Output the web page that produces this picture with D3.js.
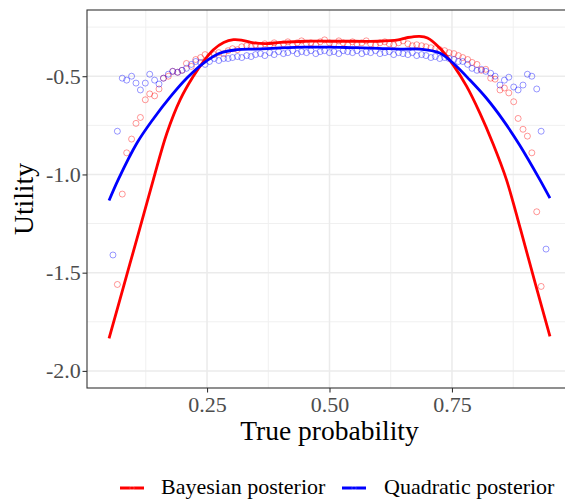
<!DOCTYPE html>
<html>
<head>
<meta charset="utf-8">
<script src="https://cdn.jsdelivr.net/npm/d3@7"></script>
<style>
  body { margin: 0; background: #fff; }
  svg { display: block; font-family: "Liberation Serif", "DejaVu Serif", serif; }
</style>
</head>
<body>
<svg id="chart"></svg>
<script>
const W = 565;
const H = 502;

// true probability grid shared by both point series
const probs = [
  0.058, 0.067, 0.077, 0.086, 0.096, 0.105, 0.114, 0.124, 0.133, 0.143,
  0.152, 0.161, 0.171, 0.180, 0.190, 0.199, 0.208, 0.218, 0.227, 0.237,
  0.246, 0.255, 0.265, 0.274, 0.284, 0.293, 0.302, 0.312, 0.321, 0.331,
  0.340, 0.349, 0.359, 0.368, 0.378, 0.387, 0.396, 0.406, 0.415, 0.425,
  0.434, 0.443, 0.453, 0.462, 0.472, 0.481, 0.490, 0.500, 0.509, 0.519,
  0.528, 0.537, 0.547, 0.556, 0.566, 0.575, 0.584, 0.594, 0.603, 0.613,
  0.622, 0.631, 0.641, 0.650, 0.660, 0.669, 0.678, 0.688, 0.697, 0.707,
  0.716, 0.725, 0.735, 0.744, 0.754, 0.763, 0.772, 0.782, 0.791, 0.801,
  0.810, 0.819, 0.829, 0.838, 0.848, 0.857, 0.866, 0.876, 0.885, 0.895,
  0.904, 0.913, 0.923, 0.932, 0.942
];

const bayesUtility = [
  null, -1.56, -1.10, -0.89, -0.82, -0.74, -0.71, -0.62, -0.59, -0.60,
  -0.565, -0.51, -0.50, -0.475, -0.48, -0.47, -0.435, -0.45, -0.415, -0.405,
  -0.39, -0.40, -0.39, -0.38, -0.385, -0.37, -0.36, -0.365, -0.35, -0.345,
  -0.35, -0.34, -0.345, -0.335, -0.34, -0.33, -0.345, -0.335, -0.325, -0.34,
  -0.33, -0.32, -0.335, -0.33, -0.34, -0.325, -0.315, -0.33, -0.335, -0.32,
  -0.33, -0.34, -0.325, -0.335, -0.33, -0.32, -0.335, -0.34, -0.33, -0.325,
  -0.335, -0.34, -0.33, -0.32, -0.335, -0.345, -0.34, -0.345, -0.35, -0.355,
  -0.36, -0.365, -0.37, -0.38, -0.385, -0.395, -0.405, -0.415, -0.43, -0.44,
  -0.47, -0.465, -0.51, -0.515, -0.57, -0.56, -0.585, -0.63, -0.715, -0.77,
  -0.805, -0.89, -1.19, -1.57, null
];

const quadUtility = [
  -1.41, -0.78, -0.51, -0.52, -0.50, -0.535, -0.57, -0.535, -0.49, -0.52,
  -0.54, -0.51, -0.49, -0.475, -0.48, -0.47, -0.46, -0.44, -0.425, -0.43,
  -0.44, -0.425, -0.41, -0.42, -0.41, -0.41, -0.405, -0.40, -0.405, -0.395,
  -0.40, -0.39, -0.385, -0.395, -0.38, -0.39, -0.375, -0.385, -0.38, -0.37,
  -0.385, -0.375, -0.38, -0.37, -0.385, -0.375, -0.37, -0.38, -0.375, -0.385,
  -0.37, -0.375, -0.38, -0.37, -0.385, -0.375, -0.38, -0.37, -0.385, -0.38,
  -0.375, -0.39, -0.38, -0.385, -0.39, -0.38, -0.395, -0.39, -0.395, -0.405,
  -0.40, -0.41, -0.405, -0.41, -0.415, -0.425, -0.425, -0.44, -0.46, -0.47,
  -0.465, -0.475, -0.485, -0.50, -0.545, -0.52, -0.505, -0.555, -0.57, -0.545,
  -0.49, -0.50, -0.565, -0.78, -1.38
];

// smoothed curves
const bayesCurveX = [0.05, 0.08, 0.11, 0.14, 0.168, 0.195, 0.222, 0.243, 0.263, 0.284,
  0.304, 0.32, 0.345, 0.37, 0.40, 0.45, 0.50, 0.55, 0.60, 0.64, 0.66, 0.684, 0.70,
  0.725, 0.752, 0.78, 0.807, 0.834, 0.861, 0.89, 0.92, 0.95];
const bayesCurveY = [-1.835, -1.567, -1.30, -1.03, -0.79, -0.62, -0.50, -0.424, -0.365, -0.328,
  -0.314, -0.316, -0.33, -0.334, -0.328, -0.322, -0.322, -0.322, -0.322, -0.315, -0.303, -0.297, -0.305,
  -0.356, -0.441, -0.552, -0.688, -0.845, -1.025, -1.28, -1.555, -1.824];

const quadCurveX = [0.05, 0.069, 0.107, 0.141, 0.175, 0.209, 0.243, 0.277, 0.311, 0.35,
  0.40, 0.45, 0.50, 0.55, 0.60, 0.65, 0.684, 0.725, 0.752, 0.786, 0.82, 0.854, 0.888, 0.929, 0.95];
const quadCurveY = [-1.133, -1.025, -0.84, -0.715, -0.605, -0.509, -0.433, -0.382, -0.365, -0.362,
  -0.356, -0.352, -0.352, -0.355, -0.358, -0.362, -0.362, -0.382, -0.433, -0.518, -0.611, -0.722, -0.85, -1.025, -1.121];

const xMajor = [0.25, 0.5, 0.75];
const xMinor = [0.125, 0.375, 0.625, 0.875];
const xTickLabels = ["0.25", "0.50", "0.75"];
const yMajor = [-2, -1.5, -1, -0.5];
const yMinor = [-1.75, -1.25, -0.75, -0.25];
const yTickLabels = ["-2.0", "-1.5", "-1.0", "-0.5"];

const seriesNames = ["Bayesian posterior", "Quadratic posterior"];
const seriesColors = ["#ff0000", "#0000ff"];

const panel = { left: 87, top: 10, right: 572, bottom: 388 };

const svg = d3.select("#chart").attr("width", W).attr("height", H);

const x = d3.scaleLinear().domain([0.005, 0.995]).range([panel.left, panel.right]);
const y = d3.scaleLinear().domain([-2.087, -0.163]).range([panel.bottom, panel.top]);

svg.append("defs").append("clipPath").attr("id", "clip")
  .append("rect")
  .attr("x", panel.left).attr("y", panel.top)
  .attr("width", panel.right - panel.left).attr("height", panel.bottom - panel.top);

// Grid
const grid = svg.append("g").attr("clip-path", "url(#clip)");
grid.selectAll(".xminor").data(xMinor).join("line")
  .attr("x1", d => x(d)).attr("x2", d => x(d))
  .attr("y1", panel.top).attr("y2", panel.bottom)
  .attr("stroke", "#f0f0f0").attr("stroke-width", 1);
grid.selectAll(".yminor").data(yMinor).join("line")
  .attr("y1", d => y(d)).attr("y2", d => y(d))
  .attr("x1", panel.left).attr("x2", panel.right)
  .attr("stroke", "#f0f0f0").attr("stroke-width", 1);
grid.selectAll(".xmajor").data(xMajor).join("line")
  .attr("x1", d => x(d)).attr("x2", d => x(d))
  .attr("y1", panel.top).attr("y2", panel.bottom)
  .attr("stroke", "#ebebeb").attr("stroke-width", 1.5);
grid.selectAll(".ymajor").data(yMajor).join("line")
  .attr("y1", d => y(d)).attr("y2", d => y(d))
  .attr("x1", panel.left).attr("x2", panel.right)
  .attr("stroke", "#ebebeb").attr("stroke-width", 1.5);

// Points and curves
const plot = svg.append("g").attr("clip-path", "url(#clip)");

[bayesUtility, quadUtility].forEach((vals, s) => {
  const pts = probs.map((p, i) => ({ p, u: vals[i] })).filter(d => d.u !== null);
  plot.append("g").selectAll("circle").data(pts).join("circle")
    .attr("cx", d => x(d.p))
    .attr("cy", d => y(d.u))
    .attr("r", 3)
    .attr("fill", "none")
    .attr("stroke", seriesColors[s])
    .attr("stroke-opacity", 0.45)
    .attr("stroke-width", 0.9);
});

const line = d3.line()
  .x(d => x(d[0]))
  .y(d => y(d[1]))
  .curve(d3.curveCatmullRom.alpha(0.5));

plot.append("path")
  .attr("d", line(bayesCurveX.map((v, i) => [v, bayesCurveY[i]])))
  .attr("fill", "none").attr("stroke", seriesColors[0]).attr("stroke-width", 2.8);
plot.append("path")
  .attr("d", line(quadCurveX.map((v, i) => [v, quadCurveY[i]])))
  .attr("fill", "none").attr("stroke", seriesColors[1]).attr("stroke-width", 2.8);

// Panel border
svg.append("rect")
  .attr("x", panel.left).attr("y", panel.top)
  .attr("width", panel.right - panel.left).attr("height", panel.bottom - panel.top)
  .attr("fill", "none").attr("stroke", "#333").attr("stroke-width", 1.1);

// Axes
const xAxis = svg.append("g")
  .attr("transform", `translate(0,${panel.bottom})`)
  .call(d3.axisBottom(x).tickValues(xMajor).tickSize(4.5).tickPadding(4)
    .tickFormat((d, i) => xTickLabels[i]));
const yAxis = svg.append("g")
  .attr("transform", `translate(${panel.left},0)`)
  .call(d3.axisLeft(y).tickValues(yMajor).tickSize(4.5).tickPadding(1.8)
    .tickFormat((d, i) => yTickLabels[i]));

[xAxis, yAxis].forEach(a => {
  a.select(".domain").remove();
  a.selectAll(".tick line").attr("stroke", "#333").attr("stroke-width", 1.1);
  a.selectAll(".tick text")
    .attr("fill", "#4d4d4d")
    .style("font-family", "Liberation Serif, serif")
    .style("font-size", "22px");
});

// Axis titles
svg.append("text")
  .attr("x", (panel.left + panel.right) / 2)
  .attr("y", 440)
  .attr("text-anchor", "middle")
  .style("font-size", "27.5px")
  .text("True probability");

svg.append("text")
  .attr("transform", "rotate(-90)")
  .attr("x", -(panel.top + panel.bottom) / 2)
  .attr("y", 33)
  .attr("text-anchor", "middle")
  .style("font-size", "27.5px")
  .text("Utility");

// Legend
const legendItems = [
  { x1: 120, x2: 144, tx: 161 },
  { x1: 342, x2: 366, tx: 384 }
];
const legend = svg.append("g");
legendItems.forEach((it, i) => {
  legend.append("line")
    .attr("x1", it.x1).attr("x2", it.x2)
    .attr("y1", 488).attr("y2", 488)
    .attr("stroke", seriesColors[i]).attr("stroke-width", 3);
  legend.append("circle")
    .attr("cx", (it.x1 + it.x2) / 2).attr("cy", 488).attr("r", 2.2)
    .attr("fill", "none").attr("stroke", "#ffffff").attr("stroke-opacity", 0.25)
    .attr("stroke-width", 0.8);
  legend.append("text")
    .attr("x", it.tx).attr("y", 493.5)
    .style("font-size", "22px")
    .text(seriesNames[i]);
});
</script>
</body>
</html>
